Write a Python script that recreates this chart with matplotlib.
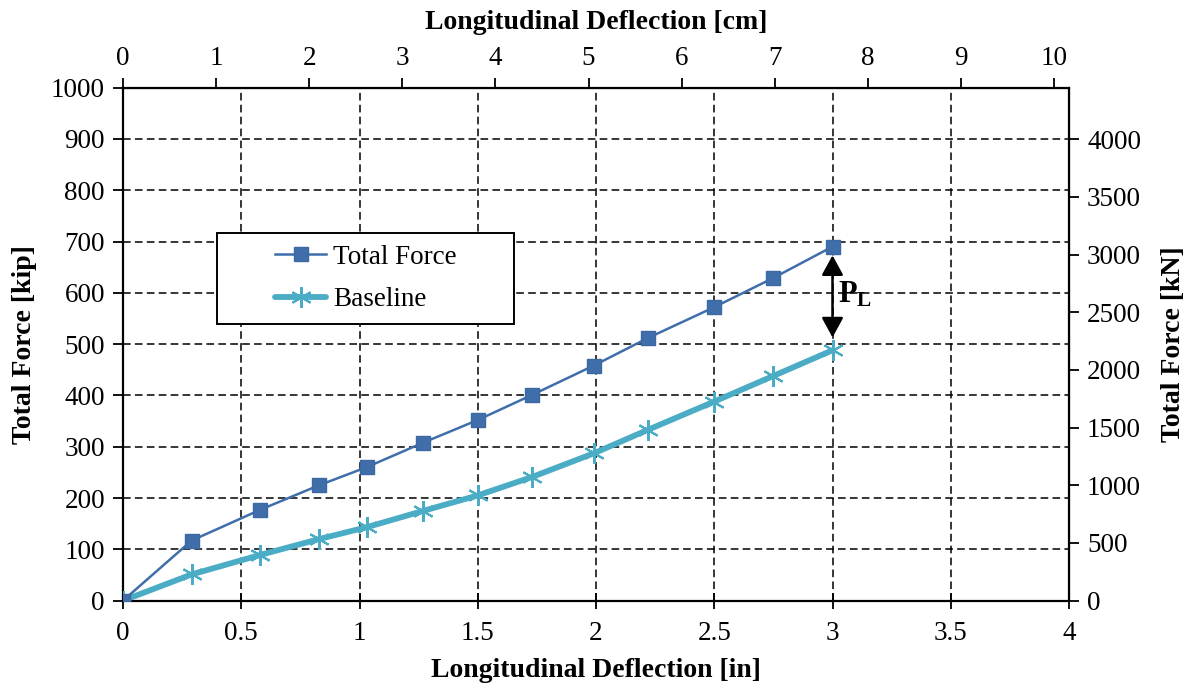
import matplotlib
matplotlib.use("Agg")
import matplotlib.pyplot as plt
from matplotlib.patches import Rectangle

# Load-deflection data
deflection_in = [0.0, 0.29, 0.58, 0.83, 1.03, 1.27, 1.50, 1.73, 1.99, 2.22, 2.50, 2.75, 3.00]
total_force_kip = [0, 117, 177, 225, 260, 308, 352, 401, 458, 512, 572, 629, 690]
baseline_kip = [0, 51, 89, 120, 143, 175, 205, 241, 287, 333, 388, 438, 488]

x_ticks_in = [0, 0.5, 1, 1.5, 2, 2.5, 3, 3.5, 4]
y_ticks_kip = list(range(0, 1001, 100))
x_ticks_cm = list(range(0, 11))
y_ticks_kn = list(range(0, 4001, 500))

IN_TO_CM = 2.54
KIP_TO_KN = 4.448

plt.rcParams['font.family'] = ['Liberation Serif', 'DejaVu Serif']
plt.rcParams['mathtext.fontset'] = 'custom'
plt.rcParams['mathtext.bf'] = 'Liberation Serif:bold'
plt.rcParams['mathtext.rm'] = 'Liberation Serif'

FS_TICK = 19.5
FS_LABEL = 20
fig = plt.figure(figsize=(11.91, 6.87), dpi=100)
ax = fig.add_axes([123 / 1191, 1 - 600.6 / 687, 946 / 1191, 513 / 687])

c_total = '#3F6EAA'
c_base = '#4BACC6'

ax.plot(deflection_in, baseline_kip, color=c_base, lw=4.2, marker=(6, 2, 0),
        markersize=15, markeredgewidth=1.5, markeredgecolor=c_base,
        label='Baseline', zorder=3, solid_capstyle='round')
ax.plot(deflection_in, total_force_kip, color=c_total, lw=1.8, marker='s',
        markersize=9.5, markeredgecolor='#3A69A3', markerfacecolor=c_total,
        label='Total Force', zorder=4)

ax.set_xlim(0, 4)
ax.set_ylim(0, 1000)
ax.set_xticks(x_ticks_in)
ax.set_xticklabels([f'{v:g}' for v in x_ticks_in])
ax.set_yticks(y_ticks_kip)
ax.grid(True, color='black', linestyle=(0, (5, 2.8)), linewidth=1.1)
ax.set_axisbelow(True)
for s in ax.spines.values():
    s.set_linewidth(1.6)
    s.set_color('black')
ax.tick_params(axis='x', direction='inout', length=12, width=1.3, labelsize=FS_TICK, pad=9)
ax.tick_params(axis='y', direction='out', length=7, width=1.3, labelsize=FS_TICK, pad=6)
ax.set_xlabel('Longitudinal Deflection [in]', fontsize=FS_LABEL, fontweight='bold', labelpad=8)
ax.set_ylabel('Total Force [kip]', fontsize=FS_LABEL, fontweight='bold', labelpad=10)

# Secondary axes in SI units
top = ax.secondary_xaxis('top', functions=(lambda x: x * IN_TO_CM, lambda x: x / IN_TO_CM))
top.set_xticks(x_ticks_cm)
top.tick_params(direction='out', length=7, width=1.3, labelsize=FS_TICK, pad=5)
top.set_xlabel('Longitudinal Deflection [cm]', fontsize=FS_LABEL, fontweight='bold', labelpad=12)

right = ax.secondary_yaxis('right', functions=(lambda y: y * KIP_TO_KN, lambda y: y / KIP_TO_KN))
right.set_yticks(y_ticks_kn)
right.tick_params(direction='out', length=7, width=1.3, labelsize=FS_TICK, pad=6)
right.set_ylabel('Total Force [kN]', fontsize=FS_LABEL, fontweight='bold', labelpad=14)

# Difference between the two curves at the last point
x_end = deflection_in[-1]
ax.annotate('', xy=(x_end, baseline_kip[-1] + 25), xytext=(x_end, total_force_kip[-1] - 17),
            arrowprops=dict(arrowstyle='<|-|>,head_length=0.55,head_width=0.3', color='black',
                            lw=1.8, mutation_scale=22, shrinkA=0, shrinkB=0), zorder=5)
ax.text(x_end + 0.025, 597, r'$\mathbf{P_L}$', fontsize=FS_LABEL + 2, va='center', ha='left')

# Legend with a wide rectangular frame
ax.add_patch(Rectangle((0.0994, 0.539), 0.4133 - 0.0994, 0.7166 - 0.539,
                       transform=ax.transAxes, facecolor='white', edgecolor='black',
                       linewidth=1.4, zorder=6))
handles, labels = ax.get_legend_handles_labels()
leg = ax.legend(handles[::-1], labels[::-1], loc='center left',
                bbox_to_anchor=(0.1607, 0.628), fontsize=FS_TICK, frameon=False,
                handlelength=1.9, borderpad=0, labelspacing=0.65, handletextpad=0.25,
                borderaxespad=0)
leg.set_zorder(7)

fig.savefig('out.png', dpi=100)
